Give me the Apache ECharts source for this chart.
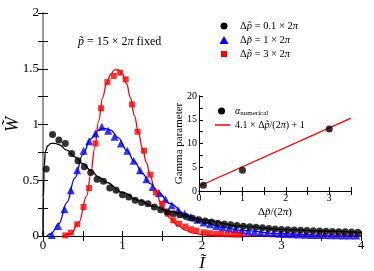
<!DOCTYPE html>
<html><head><meta charset="utf-8">
<script src="https://cdn.jsdelivr.net/npm/echarts@6/dist/echarts.min.js"></script>
<style>html,body{margin:0;padding:0;background:#fff}#c{width:374px;height:271px}</style>
</head><body><div id="c"></div>
<script>
// ---- data ----
const blackI = [0.04,0.12,0.20,0.28,0.36,0.44,0.52,0.60,0.68,0.76,0.84,0.92,1.00,1.08,1.16,1.24,1.32,1.40,1.48,1.56,1.64,1.72,1.80,1.88,1.96,2.04,2.12,2.20,2.28,2.36,2.44,2.52,2.60,2.68,2.76,2.84,2.92,3.00,3.08,3.16,3.24,3.32,3.40,3.48,3.56,3.64,3.72,3.80,3.88,3.96];
const blackW = [0.60,0.91,0.86,0.83,0.74,0.675,0.62,0.57,0.51,0.49,0.43,0.41,0.37,0.35,0.32,0.30,0.29,0.26,0.235,0.215,0.20,0.19,0.175,0.16,0.145,0.135,0.125,0.115,0.107,0.10,0.094,0.088,0.083,0.078,0.073,0.068,0.063,0.059,0.056,0.053,0.051,0.049,0.047,0.045,0.043,0.041,0.039,0.037,0.035,0.033];
const blackCurveI = [0,0.005,0.015,0.03,0.06,0.1,0.15,0.2,0.3,0.4,0.5,0.6,0.7,0.8,1.0,1.2,1.4,1.6,1.8,2.0,2.5,3.0,3.5,4.0];
const blackCurveW = [0,0.35,0.62,0.76,0.81,0.83,0.83,0.82,0.77,0.71,0.65,0.59,0.53,0.48,0.39,0.32,0.265,0.22,0.18,0.145,0.088,0.06,0.045,0.033];

const blueI = [0.11,0.19,0.27,0.35,0.43,0.51,0.58,0.66,0.74,0.82,0.90,0.98,1.06,1.14,1.22,1.30,1.38,1.46,1.54,1.62,1.70,1.78,1.86,1.94,2.02,2.10,2.18,2.26,2.34,2.42,2.50,2.58,2.66,2.74,2.82,2.90,2.98,3.06,3.14,3.22,3.30,3.38,3.46,3.54,3.62,3.70,3.78,3.86,3.94];
const blueW = [0.01,0.09,0.24,0.41,0.59,0.765,0.85,0.92,0.98,0.945,0.89,0.83,0.765,0.675,0.59,0.51,0.44,0.385,0.33,0.275,0.23,0.20,0.17,0.145,0.12,0.105,0.09,0.078,0.067,0.058,0.05,0.043,0.037,0.032,0.028,0.024,0.021,0.018,0.016,0.014,0.012,0.010,0.009,0.008,0.007,0.006,0.005,0.004,0.004];
const blueCurveI = [0.05,0.1,0.2,0.3,0.4,0.5,0.6,0.7,0.77,0.85,0.95,1.05,1.15,1.25,1.35,1.45,1.6,1.8,2.0,2.25,2.5,3.0,3.5,4.0];
const blueCurveW = [0,0.02,0.11,0.30,0.52,0.73,0.87,0.95,0.966,0.95,0.88,0.77,0.67,0.56,0.47,0.39,0.29,0.19,0.13,0.08,0.05,0.02,0.008,0.003];

const redI = [0.28,0.35,0.43,0.51,0.58,0.66,0.73,0.81,0.89,0.97,1.04,1.12,1.19,1.27,1.35,1.42,1.50,1.57,1.64,1.71,1.79,1.86,1.93,2.02,2.09,2.17,2.24,2.32,2.40,2.47];
const redW = [0.005,0.03,0.105,0.26,0.43,0.83,1.145,1.38,1.435,1.465,1.405,1.18,0.935,0.765,0.55,0.39,0.29,0.20,0.14,0.11,0.085,0.06,0.048,0.033,0.025,0.02,0.018,0.015,0.013,0.012];
const redCurveI = [0.25,0.35,0.45,0.55,0.6,0.65,0.7,0.75,0.8,0.85,0.9,0.95,1.0,1.05,1.1,1.15,1.2,1.25,1.3,1.35,1.4,1.5,1.6,1.7,1.8,1.9,2.0,2.2,2.5,3.0,4.0];
const redCurveW = [0,0.02,0.12,0.36,0.55,0.79,1.03,1.24,1.37,1.45,1.49,1.49,1.45,1.37,1.24,1.08,0.93,0.79,0.66,0.54,0.43,0.27,0.16,0.09,0.05,0.025,0.012,0.004,0.001,0,0];

const insetX = [0.1,1,3];
const insetY = [1.2,4.35,13.05];
const fitX = [0,3.5];
const fitY = [1,15.35];

const mainXTicks = ['0','1','2','3','4'];
const mainYTicks = ['0','0.5','1','1.5','2'];

// ---- chart ----
const zip = (a,b)=>a.map((v,i)=>[v,b[i]]);
const SERIF = 'Liberation Serif';
const richBase = (fs)=>({
  n:{fontFamily:SERIF,fontSize:fs,color:'#000'},
  i:{fontFamily:SERIF,fontSize:fs,fontStyle:'italic',color:'#000'},
  s:{fontFamily:SERIF,fontSize:Math.round(fs*0.7),color:'#000',padding:[4,0,0,0]}
});
const chart = echarts.init(document.getElementById('c'),null,{renderer:'canvas'});
const greyLine = {show:true,lineStyle:{color:'#9a9a9a',width:2}};
const blackLine = {show:true,lineStyle:{color:'#000',width:1}};
function mirrorX(grid,min,max,interval,opts){return Object.assign({gridIndex:grid,type:'value',min,max,interval,position:'top',axisLine:blackLine,axisTick:{show:true,inside:true,length:5,lineStyle:{color:'#000'}},minorTick:{show:true,splitNumber:2,length:5,lineStyle:{color:'#000'}},axisLabel:{show:false},splitLine:{show:false}},opts||{});}
const option = {
  animation:false,
  backgroundColor:'#fff',
  grid:[
    {left:43,top:13,width:318,height:223,show:false,containLabel:false,outerBoundsMode:'none'},
    {left:199,top:96,width:152,height:95,show:true,backgroundColor:'#fff',borderWidth:0,z:3,containLabel:false,outerBoundsMode:'none'}
  ],
  xAxis:[
    {gridIndex:0,type:'value',min:0,max:4,interval:1,position:'bottom',axisLine:blackLine,
     axisTick:{inside:true,length:5,lineStyle:{color:'#000'}},minorTick:{show:true,splitNumber:2,length:5,lineStyle:{color:'#000'}},
     splitLine:{show:false},
     axisLabel:{fontFamily:SERIF,fontSize:13,color:'#000',margin:3,formatter:(v)=>mainXTicks[Math.round(v)]},
     name:'Ĩ',nameLocation:'middle',nameGap:19,nameMoveOverlap:false,nameTextStyle:{fontFamily:SERIF,fontSize:17,fontStyle:'italic',color:'#000'}},
    mirrorX(0,0,4,1),
    {gridIndex:1,type:'value',min:0,max:3.5,interval:1,position:'bottom',axisLine:blackLine,
     axisTick:{inside:true,length:4,lineStyle:{color:'#000'}},minorTick:{show:true,splitNumber:2,length:4,lineStyle:{color:'#000'}},
     splitLine:{show:false},
     axisLabel:{fontFamily:SERIF,fontSize:10,color:'#000',margin:2,showMaxLabel:false},
     name:'{n|Δ}{i|p̃}{n|/(2}{i|π}{n|)}',nameLocation:'middle',nameGap:16,nameMoveOverlap:false,nameTextStyle:{rich:richBase(11)},z:4},
    mirrorX(1,0,3.5,1,{axisTick:{show:true,inside:true,length:4,lineStyle:{color:'#000'}},minorTick:{show:true,splitNumber:2,length:4,lineStyle:{color:'#000'}},z:4})
  ],
  yAxis:[
    {gridIndex:0,type:'value',min:0,max:2,interval:0.5,position:'left',axisLine:greyLine,
     axisTick:{inside:true,length:5,lineStyle:{color:'#000'}},minorTick:{show:true,splitNumber:2,length:5,lineStyle:{color:'#000'}},
     splitLine:{show:false},
     axisLabel:{fontFamily:SERIF,fontSize:13,color:'#000',margin:4,formatter:(v)=>mainYTicks[Math.round(v*2)]},
     name:'W̃',nameLocation:'middle',nameGap:21,nameMoveOverlap:false,nameTextStyle:{fontFamily:SERIF,fontSize:18,fontStyle:'italic',color:'#000'}},
    {gridIndex:0,type:'value',min:0,max:2,interval:0.5,position:'right',axisLine:greyLine,
     axisTick:{inside:true,length:5,lineStyle:{color:'#000'}},minorTick:{show:true,splitNumber:2,length:5,lineStyle:{color:'#000'}},
     axisLabel:{show:false},splitLine:{show:false}},
    {gridIndex:1,type:'value',min:0,max:20,interval:5,position:'left',axisLine:blackLine,
     axisTick:{inside:true,length:4,lineStyle:{color:'#000'}},minorTick:{show:true,splitNumber:2,length:4,lineStyle:{color:'#000'}},
     splitLine:{show:false},
     axisLabel:{fontFamily:SERIF,fontSize:10,color:'#000',margin:2},
     name:'Gamma parameter',nameLocation:'middle',nameGap:14,nameMoveOverlap:false,nameTextStyle:{fontFamily:SERIF,fontSize:11,color:'#000'},z:4},
    {gridIndex:1,type:'value',min:0,max:20,interval:5,position:'right',axisLine:blackLine,
     axisTick:{show:false},axisLabel:{show:false},splitLine:{show:false},z:4}
  ],
  series:[
    {type:'line',xAxisIndex:0,yAxisIndex:0,data:zip(blackCurveI,blackCurveW),smooth:0.4,smoothMonotone:'x',showSymbol:false,lineStyle:{color:'#000',width:1.3},z:2},
    {type:'line',xAxisIndex:0,yAxisIndex:0,data:zip(blueCurveI,blueCurveW),smooth:0.4,smoothMonotone:'x',showSymbol:false,lineStyle:{color:'#0000ff',width:1.3},z:2},
    {type:'line',xAxisIndex:0,yAxisIndex:0,data:zip(redCurveI,redCurveW),smooth:0.4,smoothMonotone:'x',showSymbol:false,lineStyle:{color:'#ff0000',width:1.3},z:2},
    {type:'scatter',xAxisIndex:0,yAxisIndex:0,data:zip(blueI,blueW),symbol:'triangle',symbolSize:8,itemStyle:{color:'#0000ff'},z:3},
    {type:'scatter',xAxisIndex:0,yAxisIndex:0,data:zip(redI,redW),symbol:'rect',symbolSize:6,itemStyle:{color:'#ff0000'},z:3},
    {type:'scatter',xAxisIndex:0,yAxisIndex:0,data:zip(blackI,blackW),symbol:'circle',symbolSize:7,itemStyle:{color:'#000'},z:3},
    {type:'line',xAxisIndex:2,yAxisIndex:2,data:zip(fitX,fitY),showSymbol:false,lineStyle:{color:'#ff0000',width:1.3},z:5},
    {type:'scatter',xAxisIndex:2,yAxisIndex:2,data:zip(insetX,insetY),symbol:'circle',symbolSize:7,itemStyle:{color:'#000'},z:6}
  ],
  graphic:[
    {type:'text',x:78,y:42,style:{text:'{i|p̃}{n| = 15 × 2}{i|π}{n| fixed}',rich:richBase(12),verticalAlign:'middle'}},
    {type:'circle',shape:{cx:224,cy:26,r:3.5},style:{fill:'#000'}},
    {type:'polygon',shape:{points:[[224,36],[228.5,44],[219.5,44]]},style:{fill:'#0000ff'}},
    {type:'rect',shape:{x:221,y:51,width:6,height:6},style:{fill:'#ff0000'}},
    {type:'text',x:240,y:26,style:{text:'{n|Δ}{i|p̃}{n| = 0.1 × 2}{i|π}',rich:richBase(10.5),verticalAlign:'middle'}},
    {type:'text',x:240,y:40.5,style:{text:'{n|Δ}{i|p̃}{n| = 1 × 2}{i|π}',rich:richBase(10.5),verticalAlign:'middle'}},
    {type:'text',x:240,y:54,style:{text:'{n|Δ}{i|p̃}{n| = 3 × 2}{i|π}',rich:richBase(10.5),verticalAlign:'middle'}},
    {type:'circle',shape:{cx:221.5,cy:111,r:3.5},style:{fill:'#000'},z:10},
    {type:'text',x:235,y:111,style:{text:'{i|α}{s|numerical}',rich:richBase(10),verticalAlign:'middle'},z:10},
    {type:'line',shape:{x1:215,y1:125,x2:230,y2:125},style:{stroke:'#ff0000',lineWidth:1.5},z:10},
    {type:'text',x:235,y:125,style:{text:'{n|4.1 × Δ}{i|p̃}{n|/(2}{i|π}{n|) + 1}',rich:richBase(10),verticalAlign:'middle'},z:10}
  ]
};
chart.setOption(option);
</script></body></html>
